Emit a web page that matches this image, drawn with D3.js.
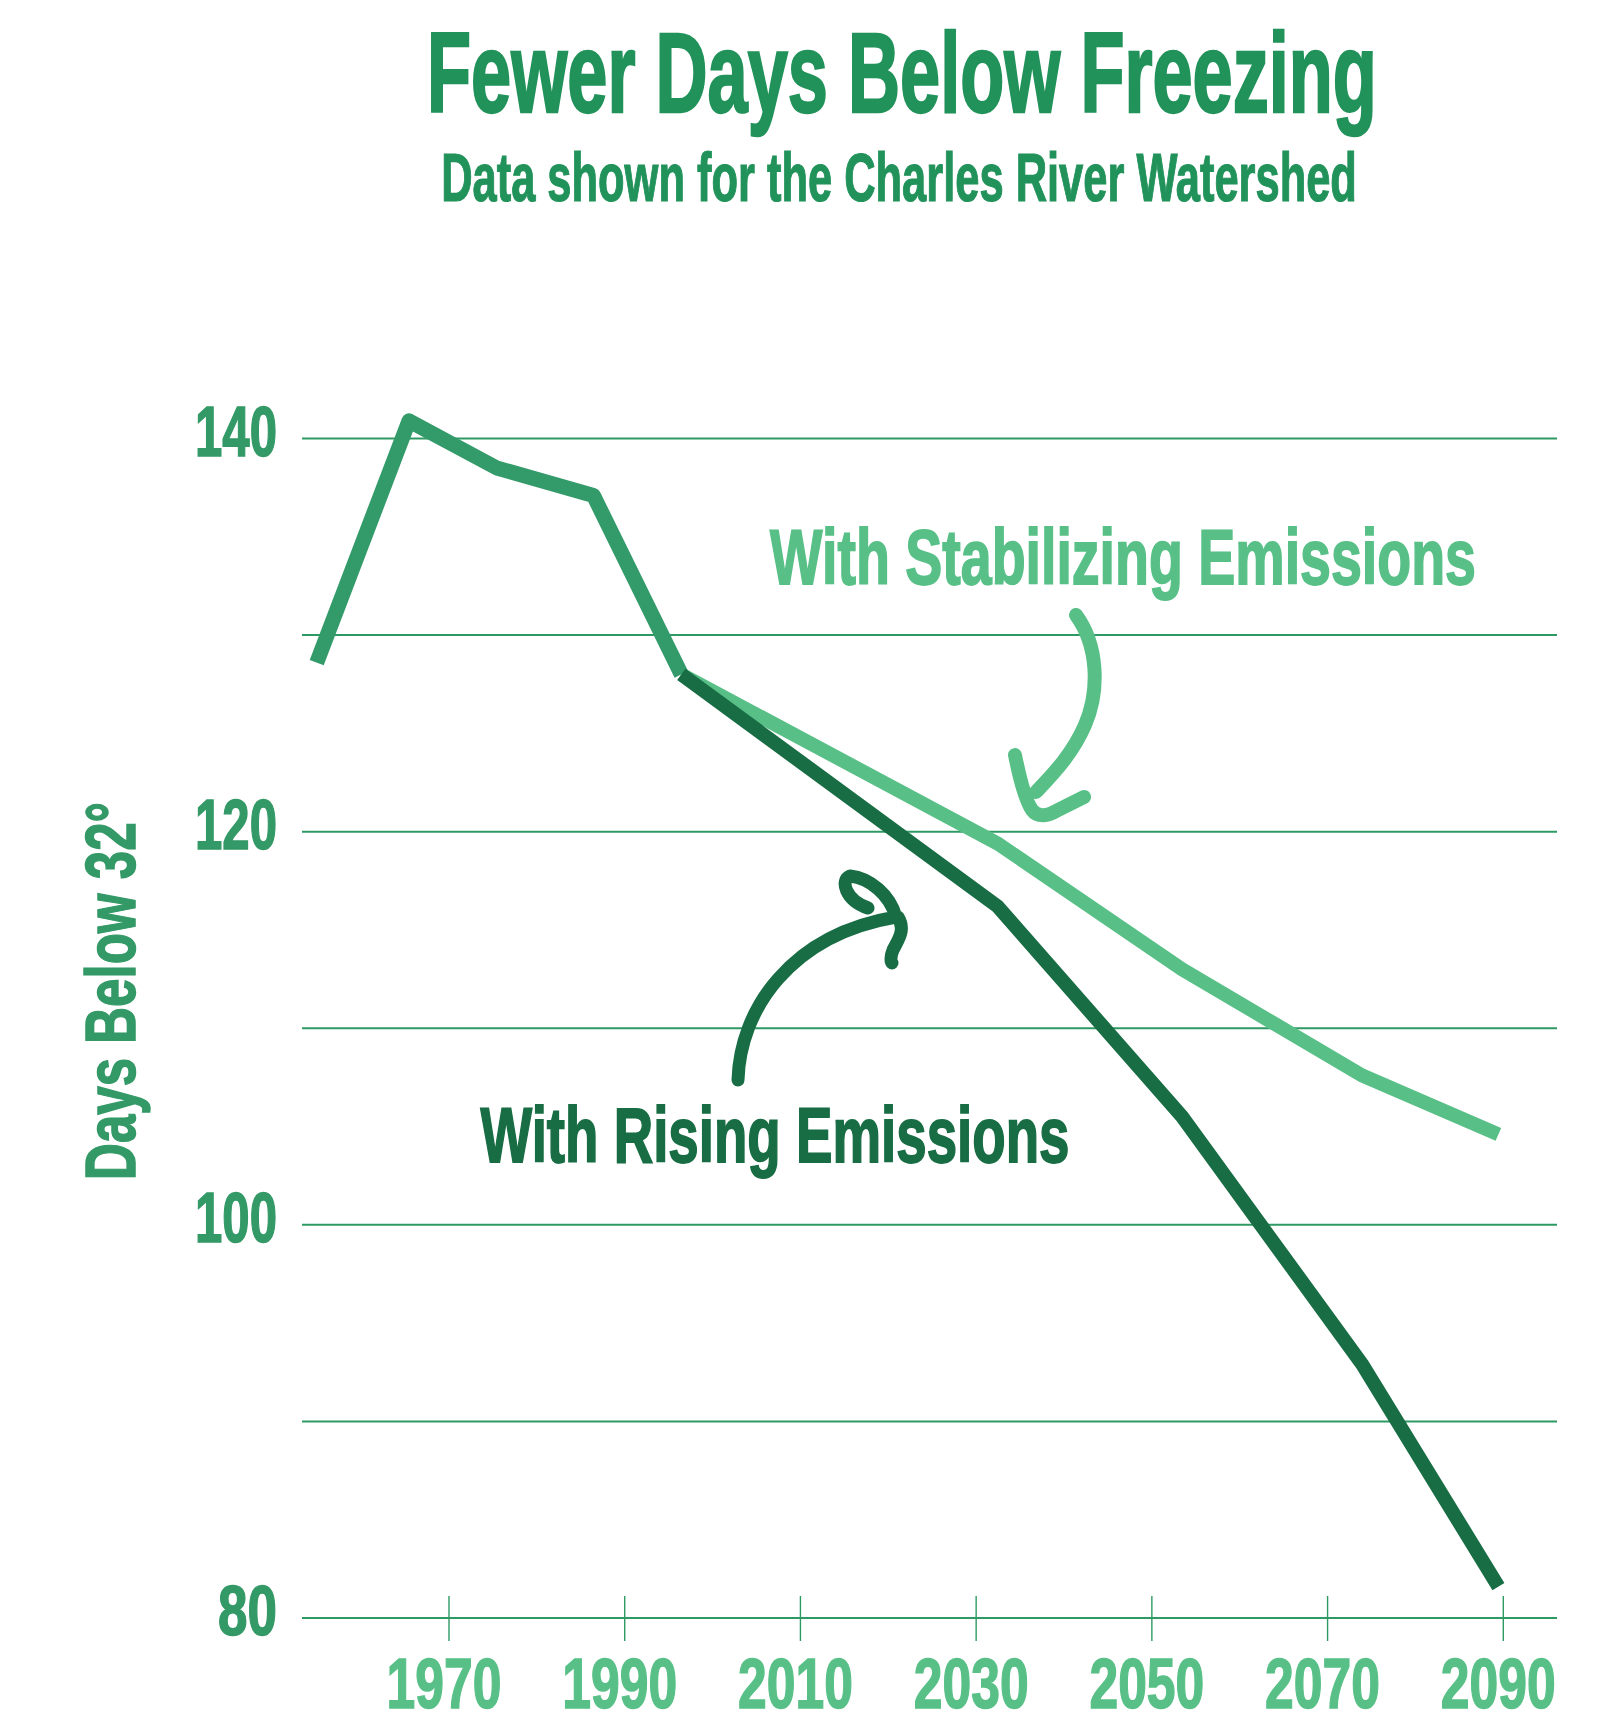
<!DOCTYPE html>
<html>
<head>
<meta charset="utf-8">
<script src="https://cdn.jsdelivr.net/npm/d3@7"></script>
<style>
  html, body { margin: 0; padding: 0; background: #ffffff; }
  svg { display: block; }
  text { font-family: 'Liberation Sans Narrow', 'Liberation Sans', Arial, sans-serif; font-weight: bold; }
</style>
</head>
<body>
<svg id="chart" width="1624" height="1722"></svg>
<script>
// Observed decade averages (1950s–1990s)
const histYears  = [1955, 1965.5, 1975.5, 1986.5, 1996.5];
const histDays   = [128.6, 140.9, 138.5, 137.1, 128.0];

// Projections branching from the last observed point
const projYears   = [1996.5, 2032.5, 2053.5, 2074, 2089.5];
const stabDays    = [128.0, 119.4, 113.0, 107.6, 104.6];
const risingDays  = [128.0, 116.2, 105.5, 92.9, 81.6];

// Axis ticks and labels
const xTickYears  = [1970, 1990, 2010, 2030, 2050, 2070, 2090];
const yGridValues = [80, 90, 100, 110, 120, 130, 140];
const yLabelValues = [80, 100, 120, 140];

const titleText    = "Fewer Days Below Freezing";
const subtitleText = "Data shown for the Charles River Watershed";
const yAxisTitle   = "Days Below 32°";
const stabLabel    = "With Stabilizing Emissions";
const risingLabel  = "With Rising Emissions";

const C = {
  title: "#21925a",
  hist: "#339a6a",
  light: "#58c087",
  dark: "#186d44",
  grid: "#2e9a63",
  yLab: "#339966"
};

const svg = d3.select("#chart");
const plotLeft = 302, plotRight = 1557;

const x = d3.scaleLinear().domain([1970, 2090]).range([448.5, 1502.8]);
const y = d3.scaleLinear().domain([80, 140]).range([1618, 438.5]);

// Condensed lettering: place text at (px, py) and scale it horizontally
// so that it spans w pixels; extra rotation optional.
function placeFit(sel, px, py, w, rot) {
  sel.attr("x", 0).attr("y", 0).each(function() {
    const natural = this.getComputedTextLength();
    const sx = natural > 0 ? w / natural : 1;
    const r = rot ? ` rotate(${rot})` : "";
    d3.select(this).attr("transform", `translate(${px},${py})${r} scale(${sx},1)`);
  });
}

// Title block
svg.append("text").text(titleText)
  .attr("text-anchor", "middle")
  .attr("font-size", 114).attr("fill", C.title)
  .attr("stroke", C.title).attr("stroke-width", 2.5)
  .call(placeFit, 902, 112, 950);

svg.append("text").text(subtitleText)
  .attr("text-anchor", "middle")
  .attr("font-size", 68).attr("fill", C.title)
  .attr("stroke", C.title).attr("stroke-width", 1.2)
  .call(placeFit, 899, 201, 916);

// Horizontal gridlines
svg.append("g").selectAll("line").data(yGridValues).join("line")
  .attr("x1", plotLeft).attr("x2", plotRight)
  .attr("y1", d => y(d)).attr("y2", d => y(d))
  .attr("stroke", C.grid).attr("stroke-width", 2);

// Y labels
svg.append("g").selectAll("text").data(yLabelValues).join("text")
  .text(d => d)
  .attr("text-anchor", "end")
  .attr("font-size", 70).attr("fill", C.yLab)
  .attr("stroke", C.yLab).attr("stroke-width", 1.5)
  .each(function(d) {
    d3.select(this).call(placeFit, 277, y(d) + 17, String(d).length === 2 ? 59 : 82);
  });

// Y axis title
svg.append("text").text(yAxisTitle)
  .attr("text-anchor", "middle")
  .attr("font-size", 70).attr("fill", C.yLab)
  .attr("stroke", C.yLab).attr("stroke-width", 1.5)
  .call(placeFit, 135, 991, 378, -90);

// X axis: ticks crossing the baseline, labels below
const xAxis = d3.axisBottom(x).tickValues(xTickYears).tickFormat(d3.format("d")).tickSize(23).tickPadding(0);
const gx = svg.append("g").attr("transform", `translate(0,${y(80)})`).call(xAxis);
gx.select(".domain").remove();
gx.selectAll(".tick line").attr("y1", -22).attr("stroke", C.grid).attr("stroke-width", 1.4);
gx.selectAll(".tick text")
  .attr("dy", 0)
  .attr("font-size", 70).attr("fill", C.light)
  .attr("stroke", C.light).attr("stroke-width", 1.5)
  .style("font-family", "'Liberation Sans Narrow', 'Liberation Sans', Arial, sans-serif")
  .style("font-weight", "bold")
  .call(placeFit, -5, 90, 115);

// Lines
const line = d3.line().x(d => x(d[0])).y(d => y(d[1]));

svg.append("path")
  .datum(d3.zip(projYears, stabDays))
  .attr("d", line).attr("fill", "none")
  .attr("stroke", C.light).attr("stroke-width", 14)
  .attr("stroke-linejoin", "miter").attr("stroke-linecap", "butt");

svg.append("path")
  .datum(d3.zip(histYears, histDays))
  .attr("d", line).attr("fill", "none")
  .attr("stroke", C.hist).attr("stroke-width", 15)
  .attr("stroke-linejoin", "round").attr("stroke-linecap", "butt");

svg.append("path")
  .datum(d3.zip(projYears, risingDays))
  .attr("d", line).attr("fill", "none")
  .attr("stroke", C.dark).attr("stroke-width", 14)
  .attr("stroke-linejoin", "miter").attr("stroke-linecap", "butt");

// Scenario labels
svg.append("text").text(stabLabel)
  .attr("text-anchor", "middle")
  .attr("font-size", 78).attr("fill", C.light)
  .attr("stroke", C.light).attr("stroke-width", 1.8)
  .call(placeFit, 1123, 584, 706);

svg.append("text").text(risingLabel)
  .attr("text-anchor", "middle")
  .attr("font-size", 78).attr("fill", C.dark)
  .attr("stroke", C.dark).attr("stroke-width", 1.8)
  .call(placeFit, 775, 1162, 589);

// Hand-drawn arrows pointing at each scenario line
const arrows = svg.append("g").attr("fill", "none")
  .attr("stroke-linecap", "round").attr("stroke-linejoin", "round");

arrows.append("path")
  .attr("d", "M1076,615 C1098,645 1100,690 1085,725 C1072,755 1052,775 1036,792 M1015,755 C1020,780 1025,800 1032,810 C1038,818 1048,816 1058,810 L1084,797")
  .attr("stroke", C.light).attr("stroke-width", 14);

arrows.append("path")
  .attr("d", "M738,1080 C740,1010 790,935 896,917 M896,917 C890,895 870,878 850,876 C840,880 845,900 868,908 M898,917 C906,930 898,940 893,950 C890,957 891,962 892,963")
  .attr("stroke", C.dark).attr("stroke-width", 13);
</script>
</body>
</html>
